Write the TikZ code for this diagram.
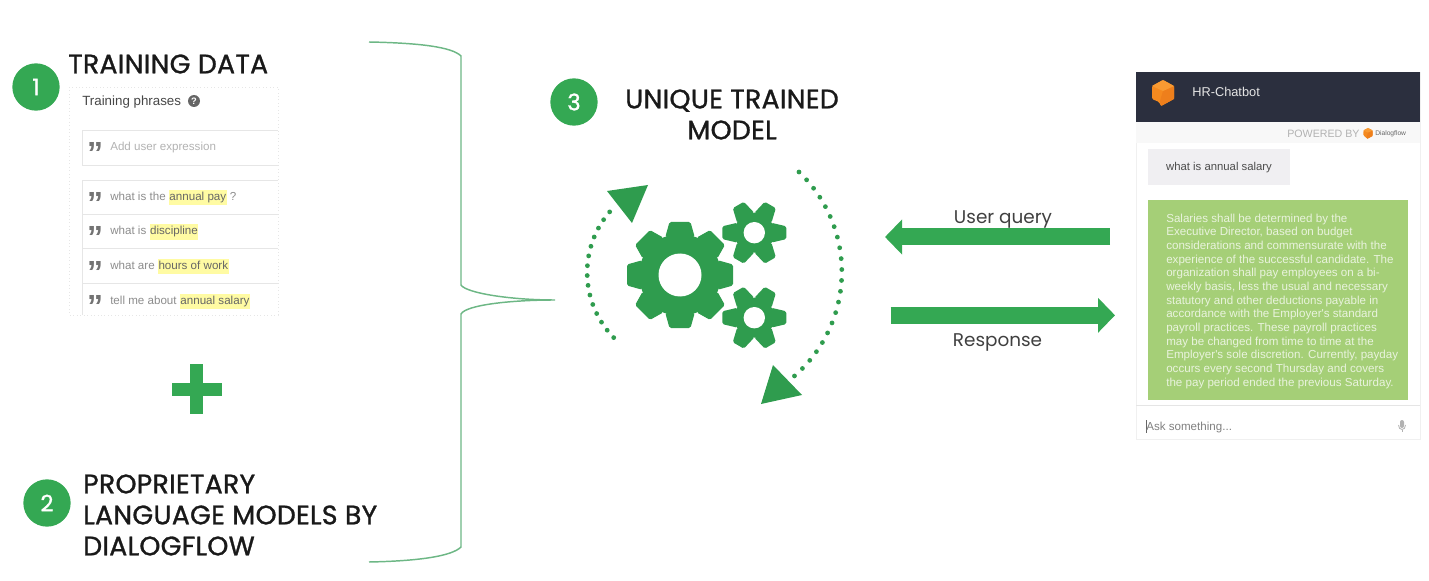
\documentclass[tikz,border=0pt]{standalone}
\usepackage{fontspec}
\usetikzlibrary{arrows.meta,positioning,calc}
\setmainfont{Poppins}
\newfontfamily\titlefont[FakeBold=1.2,LetterSpace=1.2]{Poppins}
\newfontfamily\uifont{Liberation Sans}

\definecolor{markgreen}{HTML}{34A853}
\definecolor{geargreen}{HTML}{2F9C4E}
\definecolor{bracegreen}{HTML}{6DB785}
\definecolor{chatdark}{HTML}{2B2F3E}
\definecolor{chatgreen}{HTML}{A5CF77}
\definecolor{chatgrey}{HTML}{F0EFF2}
\definecolor{bandgrey}{HTML}{F8F8F8}
\definecolor{rowline}{HTML}{E6E6E6}
\definecolor{rowtext}{HTML}{8C8C8C}
\definecolor{wordyellow}{HTML}{FFFBA3}
\definecolor{cubeorange}{HTML}{F58A1F}
\definecolor{cubedark}{HTML}{EE7F1C}
\definecolor{cubelight}{HTML}{F89A32}

\setlength{\fboxsep}{0.4pt}
\newcommand{\hlword}[1]{\colorbox{wordyellow}{\strut\textcolor{black!60}{#1}}}

% centre, teeth, outer radius, body radius, hole radius, half tooth, base factor
\newcommand{\gearicon}[7]{
    \begin{scope}[shift={(#1)}]
        \fill[geargreen] (0,0) circle[radius=#4];
        \foreach \i in {1,...,#2} {
            \fill[geargreen,rounded corners=1.2pt,rotate=\i*360/#2]
                (#4-3,-#6*#7) -- (#3,-#6) -- (#3,#6) -- (#4-3,#6*#7) -- cycle;
        }
        \fill[white] (0,0) circle[radius=#5];
    \end{scope}
}
% centre, size factor
\newcommand{\cubeicon}[2]{
    \begin{scope}[shift={(#1)},scale=#2]
        \fill[cubeorange,rounded corners=1pt] (0,-12) -- (11,-6) -- (11,7) -- (-2,14) -- (-4,10) -- (-11,7) -- (-11,-6) -- cycle;
        \fill[cubedark] (0,-1) -- (11,-6) -- (11,7) -- (-2,14) -- (-3,9) -- cycle;
        \fill[cubelight] (0,-12) -- (11,-6) -- (0,-1) -- (-11,-6) -- cycle;
    \end{scope}
}

\tikzset{
    numdot/.style={circle,fill=markgreen,text=white,minimum size=35.5pt,inner sep=0pt,font=\titlefont\fontsize{17}{17}\selectfont},
    headline/.style={inner sep=0pt,text=black!90,font=\titlefont\fontsize{20}{23.25}\selectfont},
    flowarrow/.style={draw=markgreen,line width=12.75pt,-{Triangle[length=12.75pt,width=25.5pt]}},
    flowlabel/.style={inner sep=0pt,text=black!75,font=\fontsize{13.8}{16}\selectfont},
    brace/.style={draw=bracegreen,line width=1.1pt},
    dotarc/.style={draw=geargreen,line width=3.6pt,line cap=round},
    rowbox/.style={draw=rowline,line width=0.6pt},
    rowword/.style={anchor=west,inner sep=0pt,text=rowtext,font=\uifont\fontsize{8.7}{11}\selectfont},
    quotemark/.style={anchor=center,inner sep=0pt,text=black!55,font=\uifont\bfseries\fontsize{24}{24}\selectfont},
    chatword/.style={inner sep=0pt,font=\uifont\fontsize{8.5}{11}\selectfont},
}

\begin{document}
\begin{tikzpicture}[x=0.75pt,y=-0.75pt]
    \useasboundingbox (0,0) rectangle (1429,581);

    % left column
    \node[numdot] (numOne) at (36,87) {1};
    \node[headline,anchor=west] (titleData) at (68,64) {TRAINING DATA};

    \draw[rowline,line width=0.6pt,dotted] (69,87) rectangle (278,315);
    \node[anchor=west,inner sep=0pt,text=black!72,font=\uifont\fontsize{10}{12}\selectfont] (phraseHead) at (82,102) {Training phrases};
    \node[circle,fill=black!60,text=white,inner sep=0pt,minimum size=9pt,font=\uifont\bfseries\fontsize{7}{7}\selectfont] (phraseHelp) at (194,101) {?};

    \draw[rowbox] (278,130) -- (82,130) -- (82,165) -- (278,165);
    \draw[rowbox] (278,180) -- (82,180) -- (82,315);
    \foreach \rowy in {214,248,283} {
        \draw[rowbox] (82,\rowy) -- (278,\rowy);
    }
    \foreach \rowy in {147,197,231,266,300} {
        \node[quotemark] at (95,\rowy+6) {”};
    }
    \node[rowword,text=black!30] (rowAdd) at (110,148) {Add user expression};
    \node[rowword] (rowPay) at (110,197.5) {what is the \hlword{annual pay} ?};
    \node[rowword] (rowDisc) at (110,232) {what is \hlword{discipline}};
    \node[rowword] (rowHours) at (110,266.5) {what are \hlword{hours of work}};
    \node[rowword] (rowSalary) at (110,301.5) {tell me about \hlword{annual salary}};

    \fill[markgreen] (171.5,383) rectangle (221.5,395.5);
    \fill[markgreen] (190.3,364) rectangle (202.8,414);

    \node[numdot] (numTwo) at (47,503) {2};
    \node[headline,anchor=west,align=left] (titleLang) at (83,515) {PROPRIETARY\\LANGUAGE MODELS BY\\DIALOGFLOW};

    % brace
    \coordinate (braceTop) at (369,42);
    \coordinate (braceTip) at (555,300);
    \coordinate (braceEnd) at (369,562);
    \draw[brace] (braceTop) .. controls (420,43) and (452,47) .. (461,56) -- (461,285)
        .. controls (466,293) and (510,300) .. (braceTip)
        .. controls (510,300) and (466,305) .. (461,314) -- (461,547)
        .. controls (452,556) and (420,561) .. (braceEnd);

    % middle
    \node[numdot] (numThree) at (574,102) {3};
    \node[headline,align=center] (titleModel) at (732,114.5) {UNIQUE TRAINED\\MODEL};

    \gearicon{680,275}{8}{53}{41}{21.5}{10.5}{1.4}
    \gearicon{754.3,232.7}{6}{32}{20}{10.7}{6.4}{1.55}
    \gearicon{754.3,317.7}{6}{32}{20}{10.7}{6.4}{1.55}

    \coordinate (loopLeft) at (613.7,337.6);
    \coordinate (loopRight) at (799,172);
    \draw[dotarc,dash pattern=on 0pt off 7.4pt] (loopLeft) arc[start angle=135.6,end angle=222,radius=93];
    \draw[dotarc,dash pattern=on 0pt off 8.2pt] (loopRight) arc[start angle=-46.4,end angle=50,radius=138];
    \fill[geargreen] (607,191) -- (648,185) -- (632,223) -- cycle;
    \fill[geargreen] (773,365) -- (802,395) -- (761,404) -- cycle;

    % query and response
    \coordinate (queryFrom) at (1110,237);
    \coordinate (queryTo) at (885,237);
    \coordinate (replyFrom) at (890.5,315.3);
    \coordinate (replyTo) at (1115,315.3);
    \draw[flowarrow] (queryFrom) -- (queryTo);
    \draw[flowarrow] (replyFrom) -- (replyTo);
    \node[flowlabel] (queryLabel) at (1003,219) {User query};
    \node[flowlabel] (replyLabel) at (997.5,342) {Response};

    % chat window
    \draw[black!6,line width=0.6pt] (1136,72) rectangle (1420,439);
    \fill[bandgrey] (1136,122) rectangle (1420,143);
    \fill[chatdark] (1136,72) rectangle (1420,122);
    \cubeicon{1163,92}{1}
    \node[chatword,anchor=west,text=black!10,font=\uifont\fontsize{9.6}{12}\selectfont] (chatTitle) at (1192,92) {HR-Chatbot};
    \node[chatword,anchor=west,text=black!30,font=\uifont\fontsize{8}{10}\selectfont] (poweredBy) at (1287,133.5) {POWERED BY};
    \cubeicon{1368,133}{0.42}
    \node[chatword,anchor=west,text=black!60,font=\uifont\fontsize{5}{6}\selectfont] (poweredName) at (1375,133.5) {Dialogflow};

    \fill[chatgrey] (1148,149) rectangle (1290,185);
    \node[chatword,text=black!70] (chatAsk) at (1219,168) {what is annual salary};

    \fill[chatgreen] (1148,200) rectangle (1408,400);
    \node[chatword,anchor=north west,align=left,text=white!75!chatgreen,
        font=\uifont\fontsize{8.7}{10.25}\selectfont] (chatAnswer) at (1166,213.5) {Salaries shall be determined by the\\
        Executive Director, based on budget\\
        considerations and commensurate with the\\
        experience of the successful candidate. The\\
        organization shall pay employees on a bi-\\
        weekly basis, less the usual and necessary\\
        statutory and other deductions payable in\\
        accordance with the Employer's standard\\
        payroll practices. These payroll practices\\
        may be changed from time to time at the\\
        Employer's sole discretion. Currently, payday\\
        occurs every second Thursday and covers\\
        the pay period ended the previous Saturday.};

    \draw[black!10,line width=0.8pt] (1136,405.5) -- (1420,405.5);
    \draw[black!60,line width=0.5pt] (1146,420) -- (1146,433);
    \node[chatword,anchor=west,text=black!50,font=\uifont\fontsize{8.7}{11}\selectfont] (chatInput) at (1146,427.5) {Ask something...};
    \fill[black!30,rounded corners=1.5pt] (1400,420) rectangle (1404,428);
    \draw[black!30,line width=0.6pt] (1398.5,425) .. controls (1398.5,431) and (1405.5,431) .. (1405.5,425);
    \draw[black!30,line width=0.6pt] (1402,429.5) -- (1402,432);
\end{tikzpicture}
\end{document}
